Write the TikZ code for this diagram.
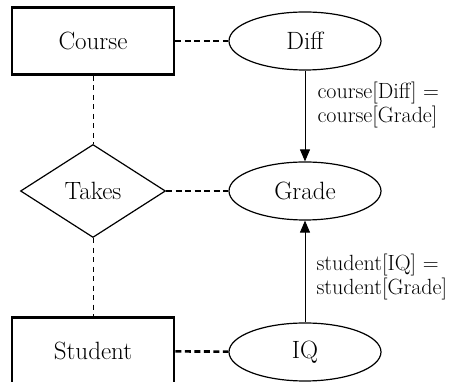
\documentclass[tikz,border=0pt]{standalone}
\usetikzlibrary{arrows.meta,positioning,shapes.geometric}

\begin{document}
\begin{tikzpicture}[
  x=1pt,y=1pt,
  ent/.style={draw,line width=2.8pt,minimum width=162pt,minimum height=67pt,
    font=\fontsize{25}{28}\selectfont},
  attr/.style={draw,ellipse,line width=1.2pt,minimum width=152pt,minimum height=58pt,
    inner sep=0pt,font=\fontsize{25}{28}\selectfont},
  rel/.style={draw,diamond,line width=1.2pt,minimum width=145pt,minimum height=93pt,
    inner sep=0pt,font=\fontsize{25}{28}\selectfont},
  link/.style={line width=2.6pt,dash pattern=on 6pt off 3.5pt},
  tie/.style={line width=0.9pt,dash pattern=on 5pt off 4.5pt},
  arrow/.style={-{Triangle[length=12pt,width=10pt]},line width=1pt},
  lbl/.style={align=left,inner sep=0pt,font=\fontsize{22}{24}\selectfont}
]
\useasboundingbox (0,0) rectangle (458,382);

\node[ent] (course) at (93,341) {Course};
\node[rel] (takes) at (93,191) {Takes};
\node[ent] (student) at (93,31) {Student};

\node[attr] (diff) at (305,341) {Diff};
\node[attr] (grade) at (305,191) {Grade};
\node[attr] (iq) at (305,30) {IQ};

\draw[link] (course) -- (diff);
\draw[link] (takes) -- (grade);
\draw[link] (student) -- (iq);
\draw[tie] (course) -- (takes);
\draw[tie] (takes) -- (student);

\draw[arrow] (diff) -- node[lbl,right=12pt,pos=0.38] {course[Diff] =\\course[Grade]} (grade);
\draw[arrow] (iq) -- node[lbl,right=11pt,pos=0.45] {student[IQ] =\\student[Grade]} (grade);
\end{tikzpicture}
\end{document}
